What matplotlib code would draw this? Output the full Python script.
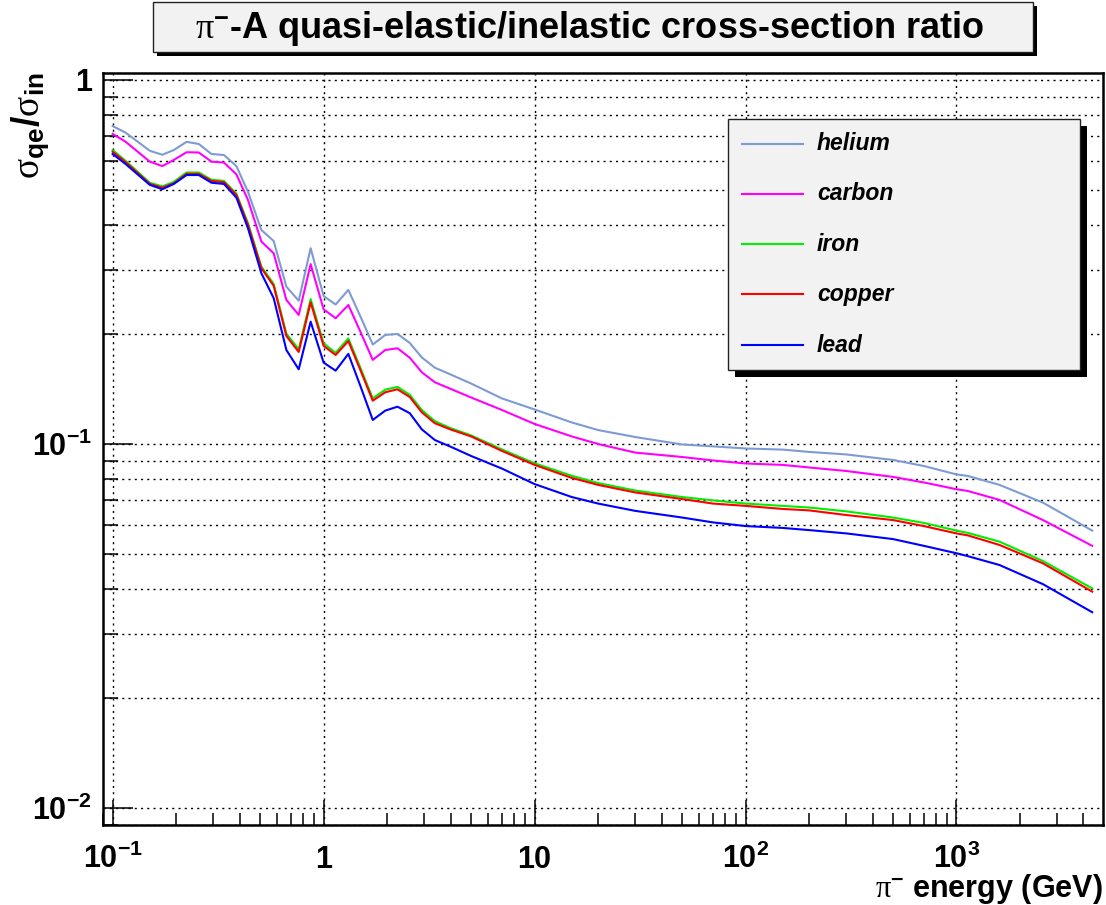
import matplotlib
matplotlib.use("Agg")
from matplotlib import pyplot as plt
from matplotlib.patches import Rectangle
from matplotlib.lines import Line2D
from matplotlib.ticker import LogLocator, NullFormatter, FixedLocator, FixedFormatter

plt.rcParams['font.family'] = ['Liberation Sans', 'DejaVu Sans']
plt.rcParams['mathtext.fontset'] = 'custom'
plt.rcParams['mathtext.rm'] = 'Liberation Serif'
plt.rcParams['mathtext.bf'] = 'Liberation Sans:bold'
plt.rcParams['mathtext.it'] = 'Liberation Serif:italic'

# energy grid (GeV)
energy = [0.1, 0.115, 0.15, 0.172, 0.195, 0.224, 0.256, 0.294, 0.337, 0.386,
          0.438, 0.507, 0.58, 0.666, 0.762, 0.868, 1.0, 1.14, 1.31, 1.5,
          1.71, 1.96, 2.24, 2.56, 2.92, 3.37, 4, 5, 7, 10,
          15, 20, 30, 50, 70, 100, 150, 200, 300, 500,
          700, 1000, 1130, 1600, 2570, 4400]

helium = [0.747, 0.717, 0.639, 0.623, 0.642, 0.676, 0.667, 0.626, 0.622, 0.580,
          0.493, 0.387, 0.361, 0.2705, 0.2475, 0.345, 0.255, 0.2416, 0.265, 0.223,
          0.1876, 0.1993, 0.2006, 0.1895, 0.1729, 0.162, 0.1552, 0.1466, 0.1334, 0.1244,
          0.1146, 0.1092, 0.1045, 0.0997, 0.0985, 0.0972, 0.0965, 0.0951, 0.0936, 0.0904,
          0.0870, 0.0825, 0.0817, 0.0772, 0.0690, 0.0578]

carbon = [0.711, 0.677, 0.5965, 0.580, 0.603, 0.633, 0.632, 0.5965, 0.593, 0.5506,
          0.468, 0.3597, 0.334, 0.2487, 0.2262, 0.312, 0.2344, 0.2215, 0.2409, 0.2024,
          0.1702, 0.1812, 0.1832, 0.1726, 0.1574, 0.1477, 0.1417, 0.1342, 0.124, 0.1135,
          0.1049, 0.1000, 0.0947, 0.0921, 0.0901, 0.0884, 0.0876, 0.0862, 0.0843, 0.0812,
          0.0784, 0.0751, 0.0743, 0.0702, 0.0618, 0.0525]

iron = [0.642, 0.600, 0.522, 0.510, 0.525, 0.557, 0.557, 0.532, 0.528, 0.487,
        0.404, 0.307, 0.275, 0.201, 0.182, 0.250, 0.189, 0.178, 0.195, 0.161,
        0.1335, 0.141, 0.1435, 0.1365, 0.124, 0.1155, 0.1105, 0.1056, 0.0966, 0.0885,
        0.0818, 0.0781, 0.0745, 0.0715, 0.0700, 0.0686, 0.0676, 0.0669, 0.0653, 0.0628,
        0.0607, 0.0578, 0.0570, 0.0539, 0.0477, 0.0401]

copper = [0.635, 0.595, 0.518, 0.506, 0.520, 0.552, 0.552, 0.528, 0.524, 0.483,
          0.400, 0.304, 0.272, 0.198, 0.179, 0.245, 0.186, 0.1756, 0.1918, 0.1587,
          0.1315, 0.1387, 0.1413, 0.1346, 0.1222, 0.1140, 0.1096, 0.1049, 0.0957, 0.0876,
          0.0807, 0.0772, 0.0736, 0.0706, 0.0686, 0.0676, 0.0663, 0.0657, 0.0638, 0.0618,
          0.0595, 0.0568, 0.0561, 0.0528, 0.0470, 0.0393]

lead = [0.626, 0.588, 0.515, 0.501, 0.518, 0.548, 0.548, 0.522, 0.518, 0.475,
        0.3915, 0.2944, 0.2514, 0.1812, 0.1604, 0.2168, 0.1673, 0.159, 0.1768, 0.1434,
        0.1164, 0.1235, 0.1266, 0.1215, 0.1097, 0.1025, 0.0983, 0.0927, 0.0856, 0.0776,
        0.0715, 0.0686, 0.0655, 0.0628, 0.0609, 0.0595, 0.0588, 0.0580, 0.0568, 0.0548,
        0.0525, 0.0501, 0.0492, 0.0465, 0.0412, 0.0345]

names = ['helium', 'carbon', 'iron', 'copper', 'lead']
colors = ['#7d9bd3', '#ff00ff', '#00ee00', '#ff0000', '#0000ff']
series = [helium, carbon, iron, copper, lead]

xticks = [0.1, 1, 10, 100, 1000]
xticklabels = [r'$\mathbf{10^{-1}}$', '1', '10', r'$\mathbf{10^{2}}$', r'$\mathbf{10^{3}}$']
yticks = [0.01, 0.1, 1]
yticklabels = [r'$\mathbf{10^{-2}}$', r'$\mathbf{10^{-1}}$', '1']

W, H = 1106, 905
fig = plt.figure(figsize=(W / 100, H / 100), dpi=100)
fig.patch.set_facecolor('white')


def fx(x):
    return x / W


def fy(y):
    return 1 - y / H


ax = fig.add_axes([fx(103), fy(825), fx(1103) - fx(103), fy(73) - fy(825)])
ax.set_xscale('log')
ax.set_yscale('log')
ax.set_xlim(0.09, 4950)
ax.set_ylim(0.00898, 1.045)

for vals, col in zip(series, colors):
    ax.plot(energy, vals, color=col, lw=1.5, zorder=3)

# ticks
ax.xaxis.set_major_locator(FixedLocator(xticks))
ax.xaxis.set_major_formatter(FixedFormatter(xticklabels))
ax.xaxis.set_minor_locator(LogLocator(base=10, subs=range(2, 10), numticks=20))
ax.xaxis.set_minor_formatter(NullFormatter())
ax.yaxis.set_major_locator(FixedLocator(yticks))
ax.yaxis.set_major_formatter(FixedFormatter(yticklabels))
ax.yaxis.set_minor_locator(LogLocator(base=10, subs=range(2, 10), numticks=20))
ax.yaxis.set_minor_formatter(NullFormatter())

ax.tick_params(axis='both', which='both', direction='in', top=False, right=False,
               width=1.1, color='black')
ax.tick_params(axis='x', which='major', length=18, pad=31, labelsize=22)
ax.tick_params(axis='x', which='minor', length=8.5)
ax.tick_params(axis='y', which='major', length=21.5, pad=8, labelsize=22)
ax.tick_params(axis='y', which='minor', length=10.8)
for t in ax.xaxis.get_major_ticks():
    t.label1.set_verticalalignment('baseline')
for lab in ax.get_xticklabels() + ax.get_yticklabels():
    lab.set_fontweight('bold')

ax.grid(True, which='major', axis='x', color='black', lw=1.0, ls=(0, (1.5, 3)))
ax.grid(True, which='both', axis='y', color='black', lw=1.0, ls=(0, (1.5, 3)))
ax.set_axisbelow(True)
for sp in ax.spines.values():
    sp.set_linewidth(1.8)

# axis titles
fig.text(fx(1103), fy(897), r'$\mathrm{\pi}^{\mathbf{-}}$ energy (GeV)', ha='right',
         va='baseline', fontsize=22, fontweight='bold')
fig.text(fx(30), fy(72), r'$\mathrm{\sigma}_{\mathbf{qe}}\mathbf{/}\mathrm{\sigma}_{\mathbf{in}}$',
         rotation=90, ha='center', va='top', fontsize=27)

# title box
fig.patches.append(Rectangle((fx(157), fy(56)), fx(1037) - fx(157), fy(6) - fy(56),
                             transform=fig.transFigure, facecolor='black',
                             edgecolor='none', zorder=1))
fig.patches.append(Rectangle((fx(153), fy(52)), fx(1033) - fx(153), fy(2) - fy(52),
                             transform=fig.transFigure, facecolor='#f2f2f2',
                             edgecolor='#222222', lw=1.0, zorder=1.1))
fig.text(fx(590), fy(38), r'$\mathrm{\pi}^{\mathbf{-}}$-A quasi-elastic/inelastic cross-section ratio',
         ha='center', va='baseline', fontsize=26, fontweight='bold', zorder=4)

# legend box
fig.patches.append(Rectangle((fx(735), fy(377)), fx(1087) - fx(735), fy(126) - fy(377),
                             transform=fig.transFigure, facecolor='black',
                             edgecolor='none', zorder=5))
fig.patches.append(Rectangle((fx(728), fy(370)), fx(1080) - fx(728), fy(119) - fy(370),
                             transform=fig.transFigure, facecolor='#f2f2f2',
                             edgecolor='#222222', lw=1.0, zorder=5.1))
leg_y = [144, 194, 244, 294, 345]
for name, col, yy in zip(names, colors, leg_y):
    fig.lines.append(Line2D([fx(742), fx(803)], [fy(yy), fy(yy)], transform=fig.transFigure,
                            color=col, lw=1.5, zorder=6))
    fig.text(fx(817), fy(yy), name, ha='left', va='center', fontsize=16.5,
             fontweight='bold', fontstyle='italic', zorder=6)

fig.savefig('out.png', dpi=100)
